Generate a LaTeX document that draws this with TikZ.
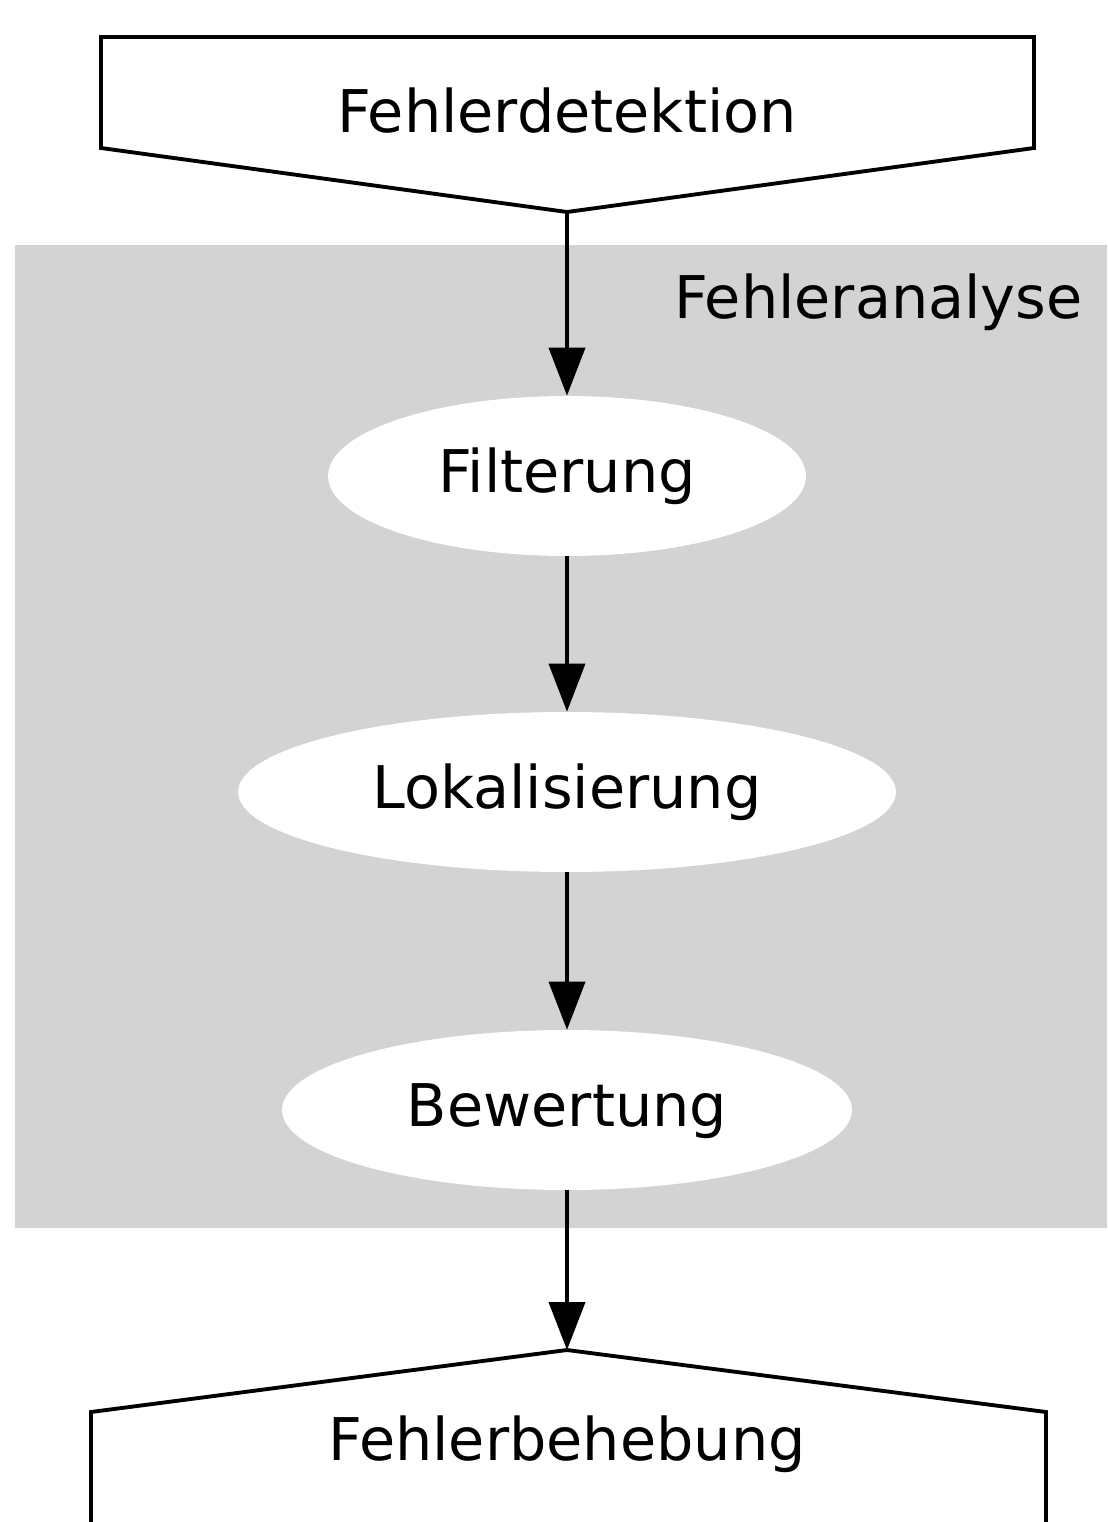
\documentclass[tikz,border=0pt]{standalone}
\usepackage{fontspec}
\setmainfont{DejaVu Sans}
\usetikzlibrary{arrows.meta,shapes.geometric}
\definecolor{clustergray}{HTML}{D3D3D3}
\begin{document}
\begin{tikzpicture}[x=0.02cm,y=-0.02cm,
  every node/.style={font=\fontsize{33.5}{40}\selectfont},
  edgeline/.style={line width=2.2pt,-{Triangle[length=0.96cm,width=0.72cm]}},
  outline/.style={line width=2.2pt,line join=miter},
  stepnode/.style={ellipse,fill=white,inner sep=0pt,
    text height=0.86cm,text depth=0.22cm,minimum height=3.2cm}]
\useasboundingbox (0,0) rectangle (1107,1522);
% cluster background
\fill[clustergray] (15,245) rectangle (1107,1228);
\node[anchor=base west] (clusterlabel) at (668,318) {Fehleranalyse};
% entry shape
\draw[outline,fill=white] (101,37) -- (1034,37) -- (1034,148)
  -- (567,212) coordinate (topapex) -- (101,148) -- cycle;
\node[anchor=base] (detect) at (567,132) {Fehlerdetektion};
% exit shape
\draw[outline,fill=white] (91,1522) -- (91,1412) -- (567,1350) coordinate (botapex)
  -- (1046,1412) -- (1046,1522);
\node[anchor=base] (fix) at (567,1460) {Fehlerbehebung};
% analysis steps
\node[stepnode,minimum width=9.56cm] (filt) at (567,476) {Filterung};
\node[stepnode,minimum width=13.16cm] (lok) at (567,792) {Lokalisierung};
\node[stepnode,minimum width=11.4cm] (bew) at (567,1110) {Bewertung};
% connectors
\draw[edgeline] (topapex) -- (filt.north);
\draw[edgeline] (filt.south) -- (lok.north);
\draw[edgeline] (lok.south) -- (bew.north);
\draw[edgeline] (bew.south) -- (botapex);
\end{tikzpicture}
\end{document}
